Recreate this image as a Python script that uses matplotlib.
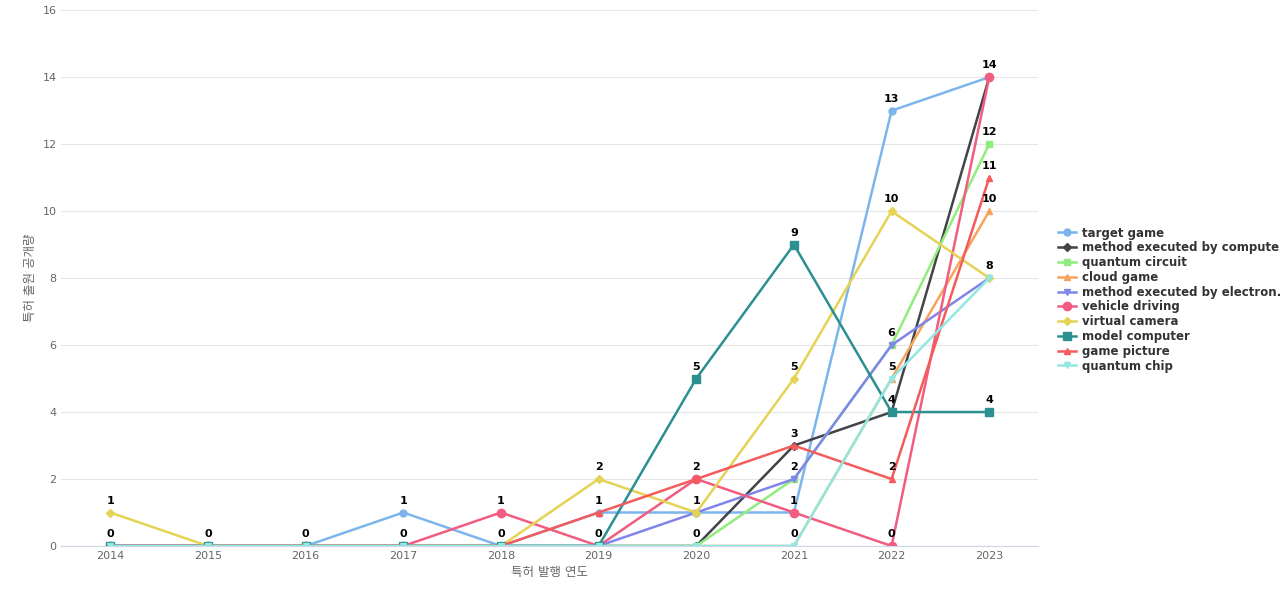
import matplotlib
matplotlib.use("Agg")
import matplotlib.pyplot as plt

plt.rcParams['font.family'] = ['DejaVu Sans', 'Noto Sans CJK KR']

years = [2014, 2015, 2016, 2017, 2018, 2019, 2020, 2021, 2022, 2023]
names = ["target game", "method executed by computer...", "quantum circuit", "cloud game",
         "method executed by electron...", "vehicle driving", "virtual camera",
         "model computer", "game picture", "quantum chip"]
target_game = [0, 0, 0, 1, 0, 1, 1, 1, 13, 14]
method_computer = [0, 0, 0, 0, 0, 0, 0, 3, 4, 14]
quantum_circuit = [0, 0, 0, 0, 0, 0, 0, 2, 6, 12]
cloud_game = [0, 0, 0, 0, 0, 0, 0, 0, 5, 10]
method_electron = [0, 0, 0, 0, 0, 0, 1, 2, 6, 8]
vehicle_driving = [0, 0, 0, 0, 1, 0, 2, 1, 0, 14]
virtual_camera = [1, 0, 0, 0, 0, 2, 1, 5, 10, 8]
model_computer = [0, 0, 0, 0, 0, 0, 5, 9, 4, 4]
game_picture = [0, 0, 0, 0, 0, 1, 2, 3, 2, 11]
quantum_chip = [0, 0, 0, 0, 0, 0, 0, 0, 5, 8]

series = [target_game, method_computer, quantum_circuit, cloud_game, method_electron,
          vehicle_driving, virtual_camera, model_computer, game_picture, quantum_chip]
colors = ["#7cb5ec", "#434348", "#90ed7d", "#f7a35c", "#8085e9",
          "#f15c80", "#e4d354", "#2b908f", "#f45b5b", "#91e8e1"]
markers = ["o", "D", "s", "^", "v", "o", "D", "s", "^", "v"]
sizes = [5, 4, 5, 5, 5, 6, 4, 6, 5, 5]

fig = plt.figure(figsize=(12.8, 6), dpi=100)
ax = fig.add_axes([0.048, 0.09, 0.763, 0.893])

seen = set()
for name, vals, c, m, s in zip(names, series, colors, markers, sizes):
    ax.plot(years, vals, color=c, marker=m, markersize=s, linewidth=1.8, label=name)
    for x, y in zip(years, vals):
        if (x, y) in seen:
            continue
        seen.add((x, y))
        ax.annotate(str(y), (x, y), xytext=(0, 5), textcoords="offset points",
                    ha="center", va="bottom", fontsize=8, fontweight="bold", color="black")

ax.set_ylim(0, 16)
ax.set_xlim(2013.5, 2023.5)
ax.set_yticks(range(0, 17, 2))
ax.set_xticks(years)
ax.tick_params(labelsize=8, colors="#666666", length=0)
ax.grid(axis="y", color="#e6e6e6", linewidth=0.8)
ax.set_axisbelow(True)
for sp in ["top", "right", "left"]:
    ax.spines[sp].set_visible(False)
ax.spines["bottom"].set_color("#ccd6eb")
ax.set_xlabel("특허 발행 연도", fontsize=9, color="#666666")
ax.set_ylabel("특허 출원 공개량", fontsize=9, color="#666666")

leg = ax.legend(loc="center left", bbox_to_anchor=(1.01, 0.46), frameon=False,
                fontsize=8.5, handlelength=1.5, labelspacing=0.15, handletextpad=0.5)
for t in leg.get_texts():
    t.set_fontweight("bold")
    t.set_color("#333333")

fig.savefig("out.png", dpi=100)
